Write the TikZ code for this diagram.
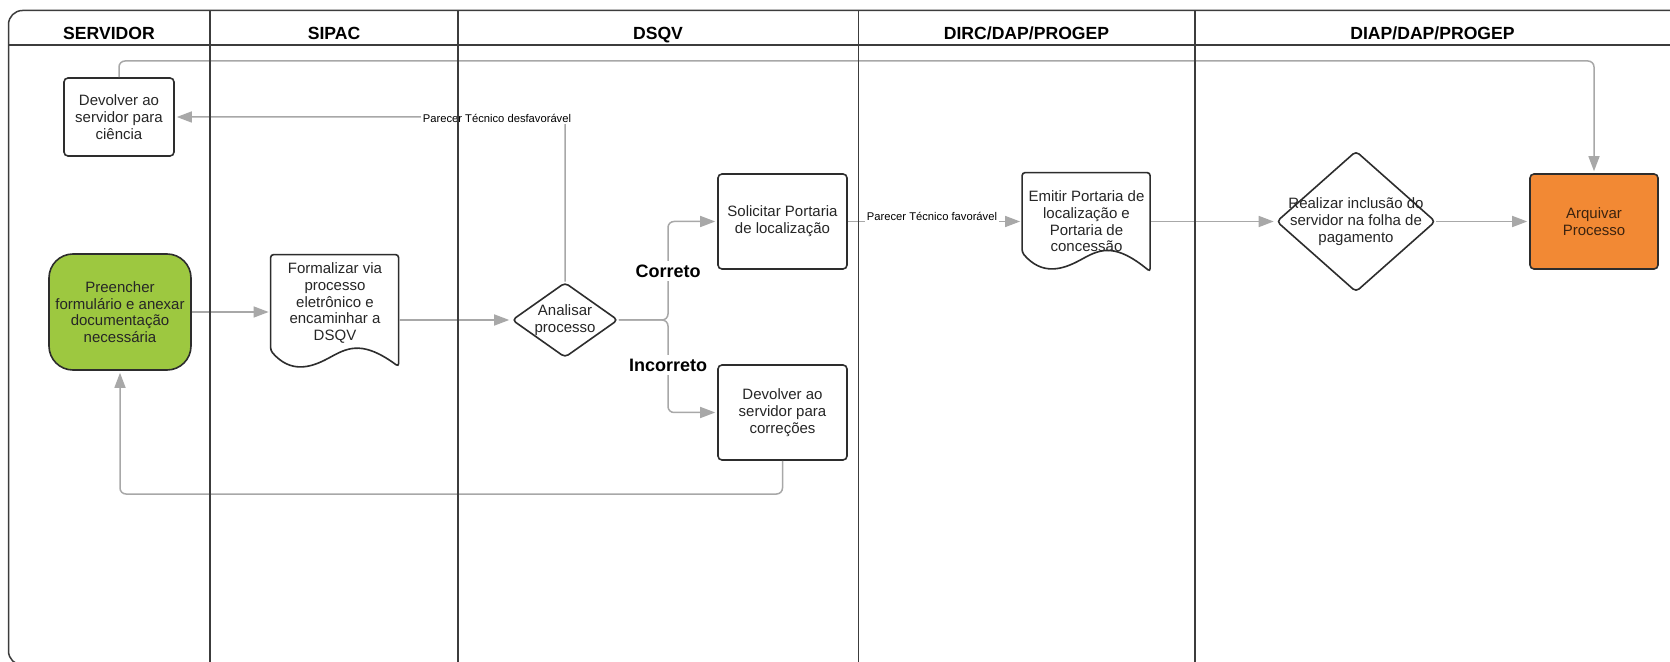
\documentclass[tikz,border=0pt]{standalone}
\usepackage{fontspec}
\setmainfont{Liberation Sans}
\usetikzlibrary{shapes.geometric,arrows.meta,calc}
\definecolor{conncol}{RGB}{168,168,168}
\definecolor{boxline}{RGB}{45,45,45}
\definecolor{lanecol}{RGB}{60,60,60}
\definecolor{greenfill}{RGB}{157,200,64}
\definecolor{orangefill}{RGB}{242,137,52}
\definecolor{orangetext}{RGB}{60,35,15}
\tikzset{
  txt/.style={font=\fontsize{7.5pt}{8.35pt}\selectfont, align=center, text=black!85},
  box/.style={txt, draw=boxline, line width=0.8pt, rounded corners=2pt, fill=white, inner sep=0pt},
  diashape/.style={shape=diamond, draw=boxline, line width=0.8pt, rounded corners=2pt, fill=white, inner sep=0pt},
  docline/.style={draw=boxline, line width=0.8pt, rounded corners=1.5pt},
  connline/.style={draw=conncol, line width=0.75pt, rounded corners=3pt},
  arr/.style={connline, -{Triangle[length=7.5pt,width=5.5pt]}, shorten >=1pt},
  hdr/.style={font=\bfseries\fontsize{8.8pt}{10pt}\selectfont, anchor=base},
  small/.style={font=\fontsize{5.6pt}{6.5pt}\selectfont, fill=white, inner sep=1pt},
  big/.style={font=\bfseries\fontsize{9pt}{10pt}\selectfont, fill=white, inner sep=2pt},
  lane/.style={draw=lanecol, line width=0.75pt}
}
\newcommand\docoutline[3]{%
  \begin{scope}[shift={(#1.north west)}]
    \draw[docline] (0,0) -- (128,0) -- (128,#2+#3)
      .. controls (94,#2-9) and (79,#2-4) .. (59,#2+7)
      .. controls (40,#2+17) and (20,#2+23) .. (0,#2) -- cycle;
  \end{scope}}
\begin{document}
\begin{tikzpicture}[x=0.5pt,y=-0.5pt]
\path[use as bounding box, clip] (0,0) rectangle (1670,662);
\fill[white] (0,0) rectangle (1670,662);
% frame and header
\draw[lane, rounded corners=7pt] (8.5,10.5) rectangle (1700,665);
\draw[lane] (8.5,45) -- (1670,45);
\node[hdr] (h1) at (109,40) {SERVIDOR};
\node[hdr] (h2) at (334,40) {SIPAC};
\node[hdr] (h3) at (658,40) {DSQV};
\node[hdr] (h4) at (1026.5,40) {DIRC/DAP/PROGEP};
\node[hdr] (h5) at (1432.5,40) {DIAP/DAP/PROGEP};
% nodes
\node[box, minimum width=55pt, minimum height=39pt] (cien) at (119,117) {Devolver ao\\servidor para\\ciência};
\node[box, fill=greenfill, rounded corners=12pt, minimum width=71pt, minimum height=58pt] (pre) at (120,312) {Preencher\\formulário e anexar\\documentação\\necessária};
\node[txt, minimum width=64pt, minimum height=48pt, inner sep=0pt] (form) at (335,303) {Formalizar via\\processo\\eletrônico e\\encaminhar a\\DSQV};
\docoutline{form}{96}{16}
\node[diashape, minimum width=53pt, minimum height=37.5pt, label={[txt]center:{Analisar\\processo}}] (dia) at (565,320) {};
\node[box, minimum width=64.5pt, minimum height=47.5pt] (sol) at (782.5,221.5) {Solicitar Portaria\\de localização};
\node[box, minimum width=64.5pt, minimum height=47.5pt] (corr) at (782.5,412.5) {Devolver ao\\servidor para\\correções};
\node[txt, minimum width=64pt, minimum height=48.5pt, inner sep=0pt] (emit) at (1086.5,221.5) {Emitir Portaria de\\localização e\\Portaria de\\concessão};
\docoutline{emit}{80}{19}
\node[diashape, minimum width=79.5pt, minimum height=70.5pt, label={[txt]center:{Realizar inclusão do\\servidor na folha de\\pagamento}}] (real) at (1356,221.5) {};
\node[box, fill=orangefill, text=orangetext, minimum width=64pt, minimum height=47.5pt] (arq) at (1594,221.5) {Arquivar\\Processo};
% connectors
\coordinate (topy) at (0,61);
\coordinate (boty) at (0,494);
\coordinate (fk) at (668,320);
\draw[arr] (cien.north) -- (cien.north |- topy) -| (arq.north);
\draw[arr] (pre.east) -- (pre.east -| form.west);
\draw[arr] (form.east |- dia.west) -- (dia.west);
\draw[arr] (dia.north) |- (cien.east);
\draw[arr] (dia.east) -- (fk) |- (sol.west);
\draw[arr] (dia.east) -- (fk) |- (corr.west);
\draw[arr] (corr.south) -- (corr.south |- boty) -| (pre.south);
\draw[arr] (sol.east) -- (sol.east -| emit.west);
\draw[arr] (emit.east |- real.west) -- (real.west);
\draw[arr] (real.east) -- (arq.west);
% labels
\node[small] (lblD) at (497,118) {Parecer Técnico desfavorável};
\node[small] (lblF) at (932,216) {Parecer Técnico favorável};
\node[big] (lblC) at (668,271) {Correto};
\node[big] (lblI) at (668,365) {Incorreto};
% lane separators
\foreach \x in {210,458,858.5,1195} \draw[lane] (\x,10.5) -- (\x,665);
\end{tikzpicture}
\end{document}
